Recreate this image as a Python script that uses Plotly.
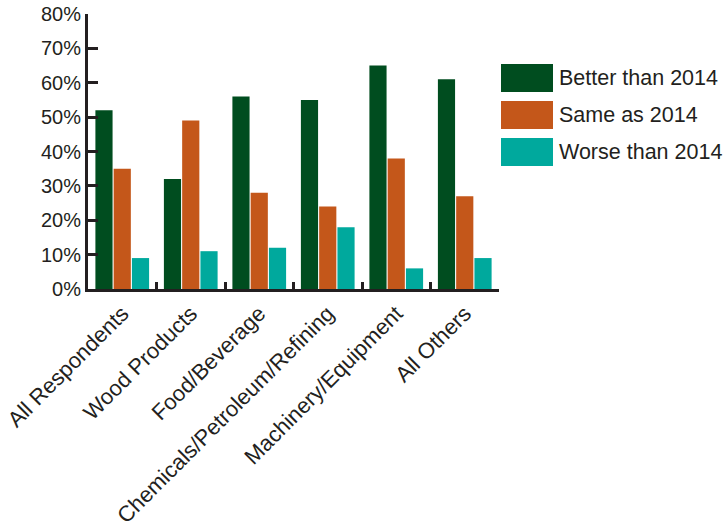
import plotly.graph_objects as go

# Survey responses by industry segment (percent of respondents)
categories = ["All Respondents", "Wood Products", "Food/Beverage",
              "Chemicals/Petroleum/Refining", "Machinery/Equipment", "All Others"]
better = [52, 32, 56, 55, 65, 61]
same = [35, 49, 28, 24, 38, 27]
worse = [9, 11, 12, 18, 6, 9]

series_names = ["Better than 2014", "Same as 2014", "Worse than 2014"]
series_values = [better, same, worse]
colors = ["#004d1f", "#c4571a", "#00a99d"]

y_ticks = [0, 10, 20, 30, 40, 50, 60, 70, 80]
y_tick_text = [f"{v}%" for v in y_ticks]

W, H = 728, 529
M_L, M_R, M_T, M_B = 88, 229, 14, 240
TEXT = "#231f20"
FONT = "Liberation Sans, Arial, sans-serif"

fig = go.Figure()
for name, vals, col in zip(series_names, series_values, colors):
    fig.add_trace(go.Bar(x=categories, y=vals, name=name, marker_color=col,
                         marker_line_width=0, showlegend=False))

# Legend drawn as wide swatches with labels, placed in pixel terms
plot_w = W - M_L - M_R
plot_h = H - M_T - M_B


def px_x(px):
    return (px - M_L) / plot_w


def px_y(py):
    return (H - M_B - py) / plot_h


swatch_tops = [64, 101, 138]
for name, col, top in zip(series_names, colors, swatch_tops):
    fig.add_shape(type="rect", xref="paper", yref="paper",
                  x0=px_x(501), x1=px_x(553), y0=px_y(top + 28), y1=px_y(top),
                  fillcolor=col, line_width=0)
    fig.add_annotation(xref="paper", yref="paper", x=px_x(557), y=px_y(top + 14),
                       text=name, showarrow=False, xanchor="left", yanchor="middle",
                       font=dict(family=FONT, size=21.5, color=TEXT))

fig.update_layout(
    width=W, height=H,
    margin=dict(l=M_L, r=M_R, t=M_T, b=M_B, autoexpand=False),
    paper_bgcolor="white", plot_bgcolor="white",
    barmode="group", bargap=0.2, bargroupgap=0.06,
    font=dict(family=FONT, color=TEXT),
)
fig.update_xaxes(
    automargin=False,
    showline=True, linecolor=TEXT, linewidth=3,
    ticks="inside", tickson="boundaries", ticklen=7, tickwidth=3, tickcolor=TEXT,
    tickangle=-45, tickfont=dict(size=22, color=TEXT, family=FONT),
    showgrid=False,
)
fig.update_yaxes(
    automargin=False,
    range=[0, 80], tickvals=y_ticks, ticktext=y_tick_text,
    showline=True, linecolor=TEXT, linewidth=3,
    ticks="inside", ticklen=10, tickwidth=3, tickcolor=TEXT,
    tickfont=dict(size=20, color=TEXT, family=FONT),
    showgrid=False, zeroline=False,
)

fig.write_html("out.html")
